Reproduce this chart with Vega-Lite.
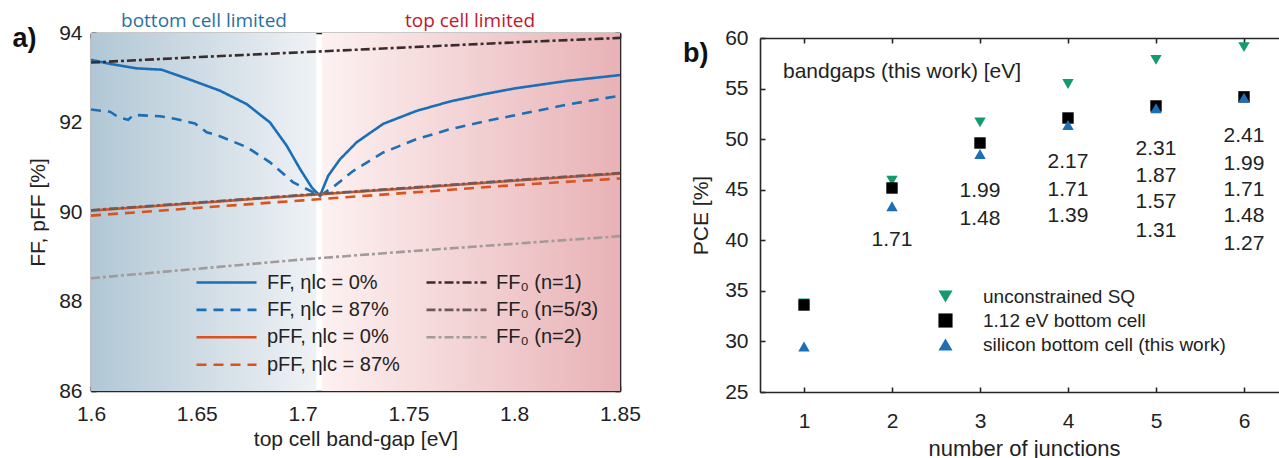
{
  "$schema": "https://vega.github.io/schema/vega-lite/v6.json",
  "background": "white",
  "padding": {"left": 12, "top": 12, "right": 0, "bottom": 0},
  "bounds": "flush",
  "spacing": 140,
  "config": {
    "font": "Liberation Sans",
    "view": {"stroke": null},
    "axis": {
      "domainColor": "#262626", "domainWidth": 1.6,
      "tickColor": "#262626", "tickWidth": 1.6, "tickSize": -5,
      "labelFontSize": 21, "labelColor": "#222222", "labelFont": "Liberation Sans", "labelFlush": false,
      "titleFontSize": 21, "titleFontWeight": "normal", "titleColor": "#222222", "titleFont": "Liberation Sans",
      "grid": false
    },
    "legend": {"padding": 0, "labelFont": "Liberation Sans", "labelColor": "#222222", "labelLimit": 400},
    "title": {"font": "Liberation Sans", "fontSize": 27, "fontWeight": "bold", "color": "#111111", "anchor": "start", "frame": "group", "offset": 0}
  },
  "hconcat": [
    {
      "width": 529,
      "height": 358,
      "title": {"text": "a)", "dx": -78.5, "dy": 45},
      "resolve": {
        "scale": {"color": "independent", "strokeDash": "independent"},
        "axis": {"x": "independent", "y": "independent"}
      },
      "layer": [
        {
          "data": {"values": [{"x1": 1.6, "x2": 1.7065}]},
          "mark": {"type": "rect", "fill": {"gradient": "linear", "x1": 0, "x2": 1, "y1": 0, "y2": 0, "stops": [{"offset": 0, "color": "#b1c7d5"}, {"offset": 1, "color": "#eff2f5"}]}},
          "encoding": {
            "x": {"field": "x1", "type": "quantitative", "scale": {"domain": [1.6, 1.85], "nice": false, "zero": false},
                  "axis": {"orient": "bottom", "values": [1.6, 1.65, 1.7, 1.75, 1.8, 1.85], "format": "~g", "title": "top cell band-gap [eV]", "labelPadding": 17, "titlePadding": 4}},
            "x2": {"field": "x2"},
            "y": {"datum": 86, "type": "quantitative", "scale": {"domain": [86, 94], "nice": false, "zero": false},
                  "axis": {"orient": "left", "values": [86, 88, 90, 92, 94], "format": "d", "title": "FF, pFF [%]", "labelPadding": 14, "titlePadding": 10}},
            "y2": {"datum": 94}
          }
        },
        {
          "data": {"values": [{"x1": 1.7092, "x2": 1.85}]},
          "mark": {"type": "rect", "fill": {"gradient": "linear", "x1": 0, "x2": 1, "y1": 0, "y2": 0, "stops": [{"offset": 0, "color": "#fdf1f1"}, {"offset": 1, "color": "#e8b2b6"}]}},
          "encoding": {
            "x": {"field": "x1", "type": "quantitative",
                  "axis": {"orient": "top", "values": [1.6, 1.65, 1.7, 1.75, 1.8, 1.85], "labels": false, "title": null}},
            "x2": {"field": "x2"},
            "y": {"datum": 86, "type": "quantitative",
                  "axis": {"orient": "right", "values": [86, 88, 90, 92, 94], "labels": false, "title": null}},
            "y2": {"datum": 94}
          }
        },
        {
          "data": {"values": [
            {"s": "FF, ηlc = 0%", "x": 1.6, "y": 93.40},
            {"s": "FF, ηlc = 0%", "x": 1.609, "y": 93.31},
            {"s": "FF, ηlc = 0%", "x": 1.6216, "y": 93.21},
            {"s": "FF, ηlc = 0%", "x": 1.6334, "y": 93.18},
            {"s": "FF, ηlc = 0%", "x": 1.6484, "y": 92.93},
            {"s": "FF, ηlc = 0%", "x": 1.661, "y": 92.71},
            {"s": "FF, ηlc = 0%", "x": 1.6736, "y": 92.41},
            {"s": "FF, ηlc = 0%", "x": 1.6846, "y": 92.0},
            {"s": "FF, ηlc = 0%", "x": 1.6925, "y": 91.48},
            {"s": "FF, ηlc = 0%", "x": 1.6988, "y": 90.96},
            {"s": "FF, ηlc = 0%", "x": 1.7043, "y": 90.55},
            {"s": "FF, ηlc = 0%", "x": 1.7082, "y": 90.36},
            {"s": "FF, ηlc = 0%", "x": 1.7121, "y": 90.81},
            {"s": "FF, ηlc = 0%", "x": 1.7177, "y": 91.18},
            {"s": "FF, ηlc = 0%", "x": 1.7256, "y": 91.56},
            {"s": "FF, ηlc = 0%", "x": 1.7381, "y": 91.97},
            {"s": "FF, ηlc = 0%", "x": 1.7539, "y": 92.26},
            {"s": "FF, ηlc = 0%", "x": 1.7697, "y": 92.47},
            {"s": "FF, ηlc = 0%", "x": 1.7854, "y": 92.63},
            {"s": "FF, ηlc = 0%", "x": 1.8, "y": 92.76},
            {"s": "FF, ηlc = 0%", "x": 1.825, "y": 92.93},
            {"s": "FF, ηlc = 0%", "x": 1.85, "y": 93.06},
            {"s": "FF, ηlc = 87%", "x": 1.6, "y": 92.29},
            {"s": "FF, ηlc = 87%", "x": 1.609, "y": 92.24},
            {"s": "FF, ηlc = 87%", "x": 1.6129, "y": 92.12},
            {"s": "FF, ηlc = 87%", "x": 1.6176, "y": 92.06},
            {"s": "FF, ηlc = 87%", "x": 1.62, "y": 92.17},
            {"s": "FF, ηlc = 87%", "x": 1.6326, "y": 92.14},
            {"s": "FF, ηlc = 87%", "x": 1.6389, "y": 92.09},
            {"s": "FF, ηlc = 87%", "x": 1.6491, "y": 91.98},
            {"s": "FF, ηlc = 87%", "x": 1.6547, "y": 91.78},
            {"s": "FF, ηlc = 87%", "x": 1.6594, "y": 91.72},
            {"s": "FF, ηlc = 87%", "x": 1.6736, "y": 91.45},
            {"s": "FF, ηlc = 87%", "x": 1.6846, "y": 91.11},
            {"s": "FF, ηlc = 87%", "x": 1.6956, "y": 90.66},
            {"s": "FF, ηlc = 87%", "x": 1.7051, "y": 90.44},
            {"s": "FF, ηlc = 87%", "x": 1.7082, "y": 90.36},
            {"s": "FF, ηlc = 87%", "x": 1.7153, "y": 90.59},
            {"s": "FF, ηlc = 87%", "x": 1.724, "y": 90.92},
            {"s": "FF, ηlc = 87%", "x": 1.7381, "y": 91.33},
            {"s": "FF, ηlc = 87%", "x": 1.7539, "y": 91.63},
            {"s": "FF, ηlc = 87%", "x": 1.7697, "y": 91.85},
            {"s": "FF, ηlc = 87%", "x": 1.7854, "y": 92.02},
            {"s": "FF, ηlc = 87%", "x": 1.8012, "y": 92.17},
            {"s": "FF, ηlc = 87%", "x": 1.825, "y": 92.4},
            {"s": "FF, ηlc = 87%", "x": 1.85, "y": 92.6},
            {"s": "pFF, ηlc = 0%", "x": 1.6, "y": 90.03},
            {"s": "pFF, ηlc = 0%", "x": 1.65, "y": 90.2},
            {"s": "pFF, ηlc = 0%", "x": 1.7, "y": 90.37},
            {"s": "pFF, ηlc = 0%", "x": 1.75, "y": 90.53},
            {"s": "pFF, ηlc = 0%", "x": 1.8, "y": 90.7},
            {"s": "pFF, ηlc = 0%", "x": 1.85, "y": 90.86},
            {"s": "pFF, ηlc = 87%", "x": 1.6, "y": 89.92},
            {"s": "pFF, ηlc = 87%", "x": 1.65, "y": 90.09},
            {"s": "pFF, ηlc = 87%", "x": 1.7, "y": 90.26},
            {"s": "pFF, ηlc = 87%", "x": 1.75, "y": 90.43},
            {"s": "pFF, ηlc = 87%", "x": 1.8, "y": 90.6},
            {"s": "pFF, ηlc = 87%", "x": 1.85, "y": 90.75}
          ]},
          "mark": {"type": "line", "strokeWidth": 2.6},
          "encoding": {
            "x": {"field": "x", "type": "quantitative", "axis": null},
            "y": {"field": "y", "type": "quantitative", "axis": null},
            "color": {"field": "s", "type": "nominal",
                      "scale": {"domain": ["FF, ηlc = 0%", "FF, ηlc = 87%", "pFF, ηlc = 0%", "pFF, ηlc = 87%"], "range": ["#1a6fb7", "#1a6fb7", "#d9531e", "#d9531e"]},
                      "legend": {"orient": "none", "legendX": 124, "legendY": 238, "title": null, "symbolType": "M-3,0H3", "symbolSize": 400, "symbolStrokeWidth": 2.6, "labelFontSize": 20, "labelOffset": 29, "rowPadding": 5.4}},
            "strokeDash": {"field": "s", "type": "nominal",
                      "scale": {"domain": ["FF, ηlc = 0%", "FF, ηlc = 87%", "pFF, ηlc = 0%", "pFF, ηlc = 87%"], "range": [[1, 0], [10, 7], [1, 0], [10, 7]]},
                      "legend": {"orient": "none", "legendX": 124, "legendY": 238, "title": null, "symbolType": "M-3,0H3", "symbolSize": 400, "symbolStrokeWidth": 2.6, "labelFontSize": 20, "labelOffset": 29, "rowPadding": 5.4}}
          }
        },
        {
          "data": {"values": [
            {"s0": "FF₀ (n=1)", "x": 1.6, "y": 93.34},
            {"s0": "FF₀ (n=1)", "x": 1.65, "y": 93.46},
            {"s0": "FF₀ (n=1)", "x": 1.7, "y": 93.57},
            {"s0": "FF₀ (n=1)", "x": 1.75, "y": 93.68},
            {"s0": "FF₀ (n=1)", "x": 1.8, "y": 93.79},
            {"s0": "FF₀ (n=1)", "x": 1.85, "y": 93.89},
            {"s0": "FF₀ (n=5/3)", "x": 1.6, "y": 90.04},
            {"s0": "FF₀ (n=5/3)", "x": 1.65, "y": 90.21},
            {"s0": "FF₀ (n=5/3)", "x": 1.7, "y": 90.38},
            {"s0": "FF₀ (n=5/3)", "x": 1.75, "y": 90.54},
            {"s0": "FF₀ (n=5/3)", "x": 1.8, "y": 90.71},
            {"s0": "FF₀ (n=5/3)", "x": 1.85, "y": 90.87},
            {"s0": "FF₀ (n=2)", "x": 1.6, "y": 88.52},
            {"s0": "FF₀ (n=2)", "x": 1.65, "y": 88.73},
            {"s0": "FF₀ (n=2)", "x": 1.7, "y": 88.94},
            {"s0": "FF₀ (n=2)", "x": 1.75, "y": 89.12},
            {"s0": "FF₀ (n=2)", "x": 1.8, "y": 89.29},
            {"s0": "FF₀ (n=2)", "x": 1.85, "y": 89.46}
          ]},
          "mark": {"type": "line", "strokeWidth": 2.6},
          "encoding": {
            "x": {"field": "x", "type": "quantitative", "axis": null},
            "y": {"field": "y", "type": "quantitative", "axis": null},
            "color": {"field": "s0", "type": "nominal",
                      "scale": {"domain": ["FF₀ (n=1)", "FF₀ (n=5/3)", "FF₀ (n=2)"], "range": ["#3a2c2c", "#6d5b5b", "#a39a9a"]},
                      "legend": {"orient": "none", "legendX": 354, "legendY": 238, "title": null, "symbolType": "M-3,0H3", "symbolSize": 400, "symbolStrokeWidth": 2.6, "labelFontSize": 20, "labelOffset": 28, "rowPadding": 5.4}},
            "strokeDash": {"field": "s0", "type": "nominal",
                      "scale": {"domain": ["FF₀ (n=1)", "FF₀ (n=5/3)", "FF₀ (n=2)"], "range": [[9, 3, 3, 3], [9, 3, 3, 3], [9, 3, 3, 3]]},
                      "legend": {"orient": "none", "legendX": 354, "legendY": 238, "title": null, "symbolType": "M-3,0H3", "symbolSize": 400, "symbolStrokeWidth": 2.6, "labelFontSize": 20, "labelOffset": 28, "rowPadding": 5.4}}
          }
        },
        {
          "data": {"values": [
            {"x": 1.6534, "y": 94.13, "t": "bottom cell limited"},
            {"x": 1.7791, "y": 94.13, "t": "top cell limited"}
          ]},
          "mark": {"type": "text", "font": "Open Sans", "fontSize": 19, "baseline": "alphabetic", "align": "center"},
          "encoding": {
            "x": {"field": "x", "type": "quantitative", "axis": null},
            "y": {"field": "y", "type": "quantitative", "axis": null},
            "text": {"field": "t"},
            "color": {"condition": {"test": "datum.t == 'top cell limited'", "value": "#c0172b"}, "value": "#2a6fa3"}
          }
        }
      ]
    },
    {
      "width": 528,
      "height": 359,
      "title": {"text": "b)", "dx": -77, "dy": 45},
      "resolve": {"axis": {"x": "independent", "y": "independent"}},
      "layer": [
        {
          "data": {"values": [
            {"n": 1, "v": 33.75, "s": "unconstrained SQ"},
            {"n": 2, "v": 45.9, "s": "unconstrained SQ"},
            {"n": 3, "v": 51.66, "s": "unconstrained SQ"},
            {"n": 4, "v": 55.45, "s": "unconstrained SQ"},
            {"n": 5, "v": 57.84, "s": "unconstrained SQ"},
            {"n": 6, "v": 59.1, "s": "unconstrained SQ"},
            {"n": 1, "v": 33.6, "s": "1.12 eV bottom cell"},
            {"n": 2, "v": 45.17, "s": "1.12 eV bottom cell"},
            {"n": 3, "v": 49.62, "s": "1.12 eV bottom cell"},
            {"n": 4, "v": 52.09, "s": "1.12 eV bottom cell"},
            {"n": 5, "v": 53.28, "s": "1.12 eV bottom cell"},
            {"n": 6, "v": 54.18, "s": "1.12 eV bottom cell"},
            {"n": 1, "v": 29.5, "s": "silicon bottom cell (this work)"},
            {"n": 2, "v": 43.36, "s": "silicon bottom cell (this work)"},
            {"n": 3, "v": 48.53, "s": "silicon bottom cell (this work)"},
            {"n": 4, "v": 51.4, "s": "silicon bottom cell (this work)"},
            {"n": 5, "v": 53.05, "s": "silicon bottom cell (this work)"},
            {"n": 6, "v": 54.1, "s": "silicon bottom cell (this work)"}
          ]},
          "mark": {"type": "point", "filled": true, "size": 130, "opacity": 1},
          "encoding": {
            "x": {"field": "n", "type": "quantitative", "scale": {"domain": [0.5, 6.5], "nice": false, "zero": false},
                  "axis": {"orient": "bottom", "values": [1, 2, 3, 4, 5, 6], "format": "d", "title": "number of junctions", "titleFontSize": 22, "labelPadding": 23, "titlePadding": 7}},
            "y": {"field": "v", "type": "quantitative", "scale": {"domain": [25, 60], "range": [359, 5], "nice": false, "zero": false},
                  "axis": {"orient": "left", "values": [25, 30, 35, 40, 45, 50, 55, 60], "format": "d", "title": "PCE [%]", "labelPadding": 17, "titlePadding": 13}},
            "shape": {"field": "s", "type": "nominal",
                      "scale": {"domain": ["unconstrained SQ", "1.12 eV bottom cell", "silicon bottom cell (this work)"], "range": ["triangle-down", "square", "triangle-up"]},
                      "legend": {"orient": "none", "legendX": 845, "legendY": 254, "title": null, "symbolSize": 200, "symbolStrokeWidth": 0, "labelFontSize": 19, "labelOffset": 28, "rowPadding": 4}},
            "color": {"field": "s", "type": "nominal",
                      "scale": {"domain": ["unconstrained SQ", "1.12 eV bottom cell", "silicon bottom cell (this work)"], "range": ["#139b6b", "#000000", "#1a6fb7"]},
                      "legend": {"orient": "none", "legendX": 845, "legendY": 254, "title": null, "symbolSize": 200, "symbolStrokeWidth": 0, "labelFontSize": 19, "labelOffset": 28, "rowPadding": 4}}
          }
        },
        {
          "data": {"values": [
            {"n": 2, "v": 40.06, "t": "1.71"},
            {"n": 3, "v": 44.9, "t": "1.99"},
            {"n": 3, "v": 42.1, "t": "1.48"},
            {"n": 4, "v": 47.71, "t": "2.17"},
            {"n": 4, "v": 45.0, "t": "1.71"},
            {"n": 4, "v": 42.43, "t": "1.39"},
            {"n": 5, "v": 49.03, "t": "2.31"},
            {"n": 5, "v": 46.39, "t": "1.87"},
            {"n": 5, "v": 43.76, "t": "1.57"},
            {"n": 5, "v": 40.95, "t": "1.31"},
            {"n": 6, "v": 50.34, "t": "2.41"},
            {"n": 6, "v": 47.54, "t": "1.99"},
            {"n": 6, "v": 45.0, "t": "1.71"},
            {"n": 6, "v": 42.43, "t": "1.48"},
            {"n": 6, "v": 39.63, "t": "1.27"}
          ]},
          "mark": {"type": "text", "fontSize": 21, "align": "center", "baseline": "middle", "color": "#222222"},
          "encoding": {
            "x": {"field": "n", "type": "quantitative",
                  "axis": {"orient": "top", "offset": -5, "values": [1, 2, 3, 4, 5, 6], "labels": false, "title": null}},
            "y": {"field": "v", "type": "quantitative", "axis": null},
            "text": {"field": "t"}
          }
        },
        {
          "data": {"values": [{"n": 0.761, "v": 56.67, "t": "bandgaps (this work) [eV]"}]},
          "mark": {"type": "text", "fontSize": 21, "align": "left", "baseline": "middle", "color": "#222222"},
          "encoding": {
            "x": {"field": "n", "type": "quantitative", "axis": null},
            "y": {"field": "v", "type": "quantitative", "axis": null},
            "text": {"field": "t"}
          }
        }
      ]
    }
  ]
}
